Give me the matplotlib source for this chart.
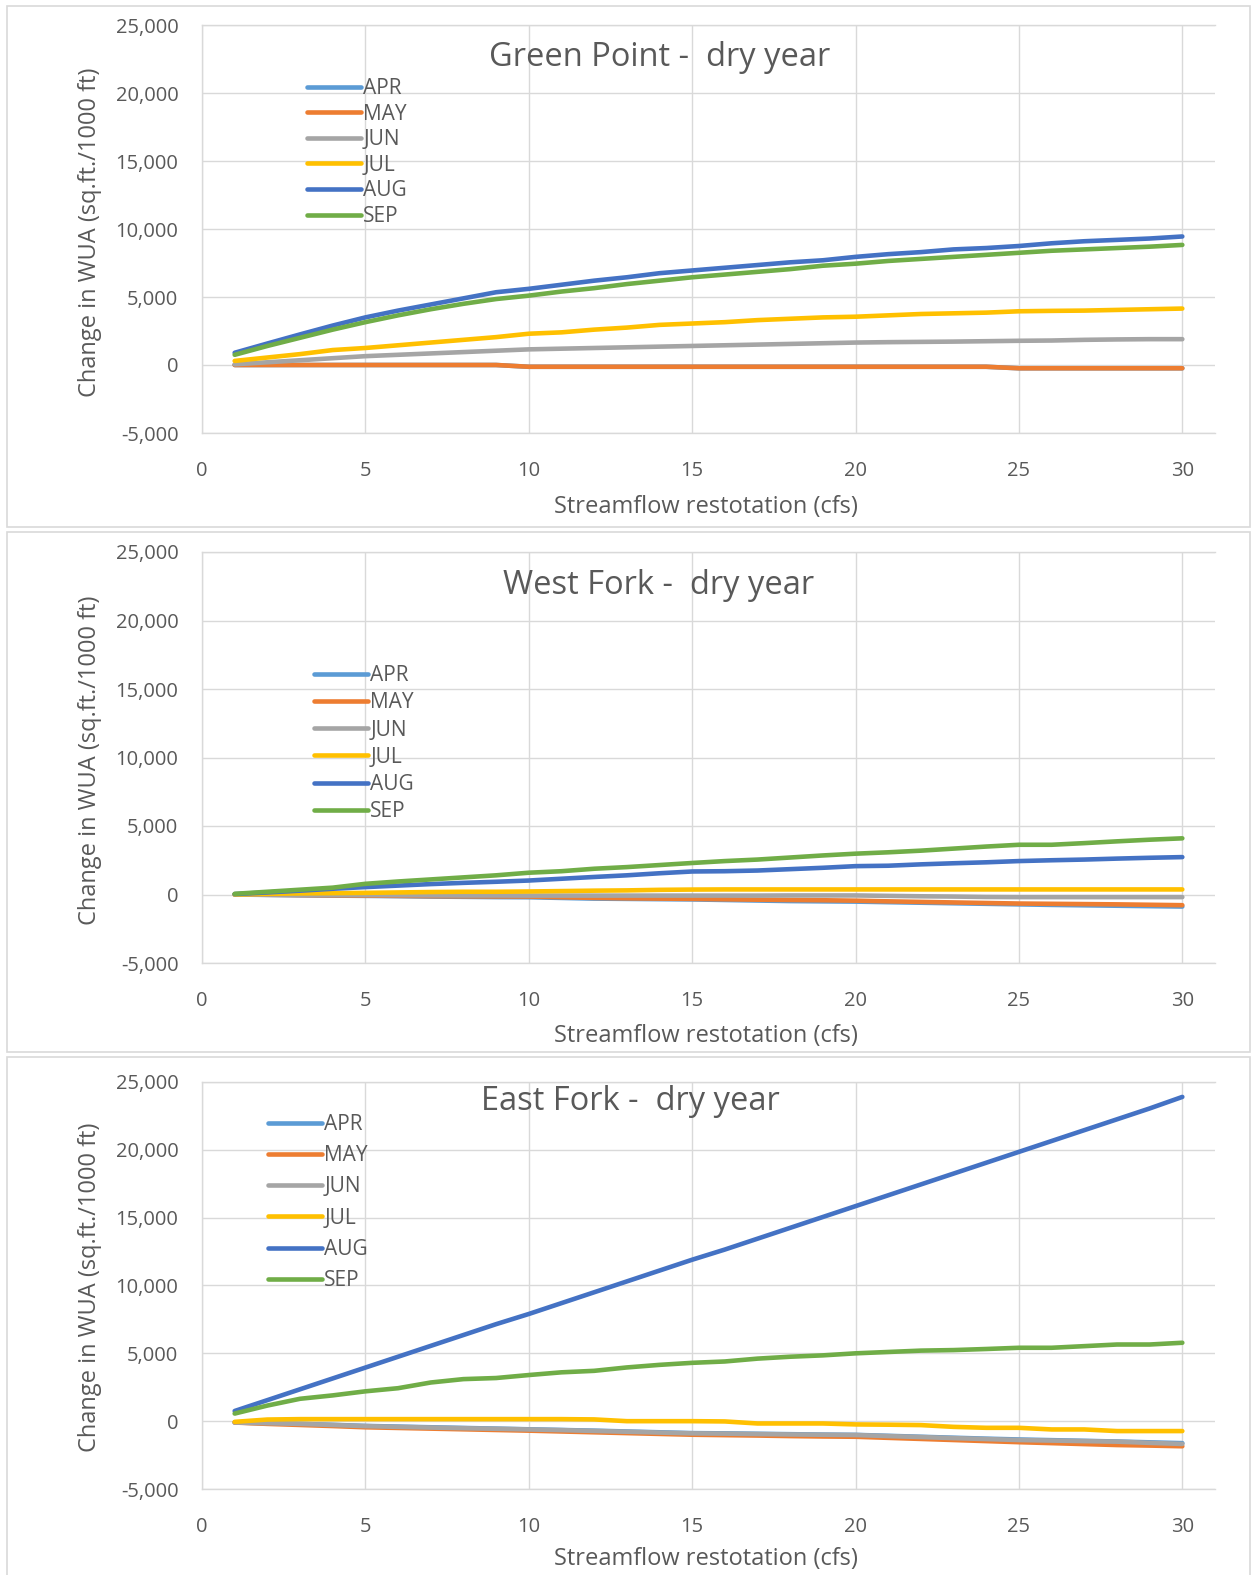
import matplotlib
matplotlib.use('Agg')
import matplotlib.pyplot as plt
from matplotlib.patches import Rectangle
from matplotlib.ticker import FuncFormatter, MultipleLocator

plt.rcParams['font.family'] = ['Open Sans', 'DejaVu Sans']

# Streamflow restoration steps (cfs)
flow = list(range(1, 31))
months = ['APR', 'MAY', 'JUN', 'JUL', 'AUG', 'SEP']
month_colors = ['#5B9BD5', '#ED7D31', '#A5A5A5', '#FFC000', '#4472C4', '#70AD47']

# Green Point - dry year
gp_apr = [0, 0, 0, 0, 0, 0, 0, 0, 0, -130, -130, -130, -130, -130, -130,
          -130, -130, -130, -130, -130, -130, -130, -130, -130, -240, -240, -240, -240, -240, -240]
gp_may = [0, 0, 0, 0, 0, 0, 0, 0, 0, -130, -130, -130, -130, -130, -130,
          -130, -130, -130, -130, -130, -130, -130, -130, -130, -240, -240, -240, -240, -240, -240]
gp_jun = [50, 200, 350, 500, 650, 750, 850, 950, 1050, 1150, 1200, 1250, 1300, 1350, 1400,
          1450, 1500, 1550, 1600, 1650, 1680, 1700, 1720, 1750, 1780, 1800, 1850, 1880, 1900, 1900]
gp_jul = [300, 550, 800, 1100, 1250, 1450, 1650, 1850, 2050, 2300, 2400, 2600, 2750, 2950, 3050,
          3150, 3300, 3400, 3500, 3550, 3650, 3750, 3800, 3850, 3950, 3980, 4000, 4050, 4100, 4150]
gp_aug = [900, 1580, 2250, 2900, 3500, 4000, 4450, 4900, 5350, 5600, 5900, 6200, 6450, 6750, 6950,
          7150, 7350, 7550, 7700, 7950, 8150, 8300, 8500, 8600, 8750, 8950, 9100, 9200, 9300, 9450]
gp_sep = [750, 1400, 2000, 2600, 3150, 3650, 4100, 4500, 4850, 5100, 5400, 5650, 5950, 6200, 6450,
          6650, 6850, 7050, 7300, 7450, 7650, 7800, 7950, 8100, 8250, 8400, 8500, 8600, 8700, 8830]

# West Fork - dry year
wf_apr = [0, -30, -60, -80, -100, -120, -150, -170, -190, -200, -250, -300, -320, -340, -360,
          -400, -440, -480, -500, -520, -560, -600, -640, -680, -720, -760, -790, -820, -850, -880]
wf_may = [0, -20, -40, -60, -80, -100, -120, -130, -140, -150, -200, -250, -280, -300, -320,
          -350, -380, -400, -420, -450, -500, -540, -580, -620, -660, -680, -700, -720, -750, -780]
wf_jun = [0, 0, -20, -30, -40, -50, -60, -70, -70, -80, -80, -80, -80, -80, -80,
          -80, -80, -70, -70, -70, -100, -130, -150, -180, -190, -190, -190, -190, -190, -190]
wf_jul = [0, 50, 80, 100, 120, 150, 180, 200, 200, 220, 250, 280, 300, 340, 360,
          370, 370, 370, 370, 370, 370, 370, 370, 370, 370, 370, 370, 370, 370, 370]
wf_aug = [30, 150, 280, 420, 540, 650, 760, 850, 930, 1020, 1150, 1280, 1400, 1550, 1680,
          1700, 1750, 1850, 1950, 2070, 2100, 2200, 2280, 2350, 2440, 2500, 2550, 2620, 2680, 2730]
wf_sep = [50, 200, 350, 500, 780, 950, 1100, 1250, 1400, 1590, 1700, 1880, 2000, 2150, 2300,
          2440, 2550, 2700, 2850, 2980, 3080, 3200, 3350, 3500, 3630, 3630, 3750, 3880, 4000, 4100]

# East Fork - dry year
ef_apr = [-100, -150, -200, -270, -350, -400, -450, -500, -550, -600, -650, -700, -760, -820, -880,
          -900, -930, -960, -990, -1010, -1080, -1150, -1220, -1290, -1350, -1400, -1450, -1500, -1560, -1620]
ef_may = [-100, -200, -280, -360, -450, -500, -550, -600, -650, -700, -760, -820, -880, -940, -1000,
          -1030, -1060, -1100, -1130, -1150, -1230, -1310, -1390, -1470, -1550, -1620, -1690, -1760, -1800, -1850]
ef_jun = [-100, -150, -200, -280, -365, -420, -470, -520, -560, -610, -660, -720, -780, -840, -900,
          -920, -950, -980, -1000, -1020, -1100, -1170, -1250, -1320, -1390, -1430, -1470, -1510, -1600, -1680]
ef_jul = [-50, 120, 150, 150, 150, 150, 150, 150, 150, 150, 150, 130, 0, 0, 0,
          -20, -170, -170, -170, -240, -260, -290, -420, -490, -490, -610, -610, -730, -730, -730]
ef_aug = [750, 1550, 2350, 3150, 3950, 4750, 5550, 6350, 7150, 7900, 8700, 9500, 10300, 11100, 11900,
          12650, 13450, 14250, 15050, 15850, 16650, 17450, 18250, 19050, 19850, 20650, 21450, 22250, 23050, 23900]
ef_sep = [560, 1150, 1650, 1900, 2200, 2430, 2850, 3100, 3180, 3400, 3600, 3710, 3960, 4150, 4300,
          4400, 4610, 4750, 4850, 5000, 5100, 5200, 5240, 5320, 5410, 5410, 5530, 5650, 5650, 5780]

sites = ['Green Point', 'West Fork', 'East Fork']
site_series = [
    [gp_apr, gp_may, gp_jun, gp_jul, gp_aug, gp_sep],
    [wf_apr, wf_may, wf_jun, wf_jul, wf_aug, wf_sep],
    [ef_apr, ef_may, ef_jun, ef_jul, ef_aug, ef_sep],
]

W, H = 1252, 1575
TXT = '#595959'
GRID = '#D9D9D9'

fig = plt.figure(figsize=(W / 100, H / 100), dpi=100)


def fx(px):
    return px / W


def fy(py):
    return 1 - py / H


# chart frames (pixel boxes: left, top, right, bottom)
frames = [(7, 6, 1250, 527), (7, 532, 1250, 1052), (7, 1057, 1250, 1590)]
# plot areas (top, bottom pixel rows)
areas = [(25, 433), (552, 963), (1082, 1489)]
titles_xy = [(660, 58), (659, 586), (630, 1101)]
xlabel_y = [507, 1036, 1559]
ylabel_y = [232, 760, 1287]
legend_xy = [(307, 78), (314, 665), (268, 1114)]
legend_gap = [0.22, 0.30, 0.49]

for i, site in enumerate(sites):
    l, t, r, b = frames[i]
    fig.patches.append(Rectangle((fx(l), fy(b)), fx(r - l), (b - t) / H, transform=fig.transFigure,
                                 fill=False, edgecolor=GRID, linewidth=1.2))

    top, bot = areas[i]
    ax = fig.add_axes([fx(202), fy(bot), fx(1215 - 202), (bot - top) / H])
    for vals, name, col in zip(site_series[i], months, month_colors):
        ax.plot(flow, vals, color=col, linewidth=3.3, label=name, solid_capstyle='round')

    ax.set_xlim(0, 31)
    ax.set_ylim(-5000, 25000)
    ax.xaxis.set_major_locator(MultipleLocator(5))
    ax.yaxis.set_major_locator(MultipleLocator(5000))
    ax.yaxis.set_major_formatter(FuncFormatter(lambda v, p: f'{v:,.0f}'))
    ax.grid(True, color=GRID, linewidth=1.0)
    ax.set_axisbelow(True)
    for side in ['left', 'bottom', 'top']:
        ax.spines[side].set_color(GRID)
        ax.spines[side].set_linewidth(1.0)
    ax.spines['right'].set_visible(False)
    ax.tick_params(length=0, colors=TXT, labelsize=14.5)
    ax.tick_params(axis='x', pad=20)
    ax.tick_params(axis='y', pad=17)

    tx, ty = titles_xy[i]
    fig.text(fx(tx), fy(ty), f'{site} -  dry year', ha='center', va='center', fontsize=23.5, color=TXT)
    fig.text(fx(706), fy(xlabel_y[i]), 'Streamflow restotation (cfs)', ha='center', va='center',
             fontsize=17, color=TXT)
    fig.text(fx(90), fy(ylabel_y[i]), 'Change in WUA (sq.ft./1000 ft)', ha='center', va='center',
             rotation=90, fontsize=17, color=TXT)

    lx, ly = legend_xy[i]
    ax.legend(loc='upper left', bbox_to_anchor=(fx(lx), fy(ly)), bbox_transform=fig.transFigure,
              frameon=False, borderpad=0, borderaxespad=0, handlelength=2.6, handletextpad=0.1,
              labelspacing=legend_gap[i], fontsize=15, labelcolor=TXT)

fig.savefig('out.png', dpi=100, facecolor='white')
